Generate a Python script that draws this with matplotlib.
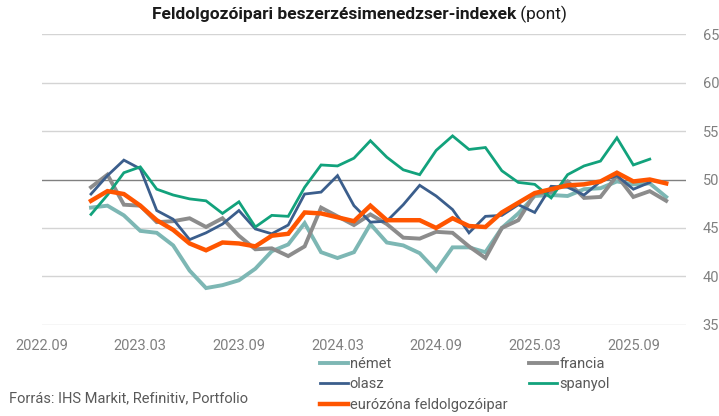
import matplotlib
matplotlib.use('Agg')
import matplotlib.pyplot as plt

plt.rcParams['font.family'] = ['Roboto', 'DejaVu Sans']

# havi adatok 2022.12 - 2025.11
start_month = 3  # honapok 2022.09 ota
nemet = [47.1, 47.3, 46.3, 44.7, 44.5, 43.2, 40.6, 38.8, 39.1, 39.6, 40.8, 42.6,
         43.3, 45.5, 42.5, 41.9, 42.5, 45.4, 43.5, 43.2, 42.4, 40.6, 43.0, 43.0,
         42.5, 45.0, 46.5, 48.3, 48.4, 48.3, 49.0, 49.1, 49.8, 49.5, 49.6, 48.2]
francia = [49.2, 50.5, 47.4, 47.3, 45.6, 45.7, 46.0, 45.1, 46.0, 44.2, 42.8, 42.9,
           42.1, 43.1, 47.1, 46.2, 45.3, 46.4, 45.4, 44.0, 43.9, 44.6, 44.5, 43.1,
           41.9, 45.0, 45.8, 48.5, 48.7, 49.8, 48.1, 48.2, 50.4, 48.2, 48.8, 47.8]
olasz = [48.5, 50.4, 52.0, 51.1, 46.8, 45.9, 43.8, 44.5, 45.4, 46.8, 44.9, 44.4,
         45.3, 48.5, 48.7, 50.4, 47.3, 45.6, 45.7, 47.4, 49.4, 48.3, 46.9, 44.5,
         46.2, 46.3, 47.4, 46.6, 49.3, 49.2, 48.4, 49.8, 50.4, 49.0, 49.7]
spanyol = [46.4, 48.4, 50.7, 51.3, 49.0, 48.4, 48.0, 47.8, 46.5, 47.7, 45.1, 46.3,
           46.2, 49.2, 51.5, 51.4, 52.2, 54.0, 52.3, 51.0, 50.5, 53.0, 54.5, 53.1,
           53.3, 50.9, 49.7, 49.5, 48.1, 50.5, 51.4, 51.9, 54.3, 51.5, 52.1]
eurozona = [47.8, 48.8, 48.5, 47.3, 45.8, 44.8, 43.4, 42.7, 43.5, 43.4, 43.1, 44.2,
            44.4, 46.6, 46.5, 46.1, 45.7, 47.3, 45.8, 45.8, 45.8, 45.0, 46.0, 45.2,
            45.1, 46.6, 47.6, 48.6, 49.0, 49.4, 49.5, 49.8, 50.7, 49.8, 50.0, 49.6]

tick_pos = [0, 6, 12, 18, 24, 30, 36]
tick_labels = ['2022.09', '2023.03', '2023.09', '2024.03', '2024.09', '2025.03', '2025.09']
y_ticks = [35, 40, 45, 50, 55, 60, 65]

series = [
    ('német', nemet, '#7DB7B4', 2.8),
    ('francia', francia, '#8C8C8C', 2.8),
    ('olasz', olasz, '#3B5E8C', 2.0),
    ('spanyol', spanyol, '#12A27C', 2.0),
    ('eurózóna feldolgozóipar', eurozona, '#FF5500', 3.2),
]

fig = plt.figure(figsize=(7.19, 4.16), dpi=100)
ax = fig.add_axes([0.058, 0.219, 0.896, 0.699])

for yv in y_ticks:
    if yv == 50:
        ax.axhline(yv, color='#808080', lw=1.0, zorder=1)
    else:
        ax.axhline(yv, color='#D4D4D4', lw=1.0, zorder=1)

lines = {}
for name, vals, col, lw in series:
    xs = [start_month + i for i in range(len(vals))]
    ln, = ax.plot(xs, vals, color=col, lw=lw, label=name, zorder=3,
                  solid_joinstyle='miter')
    lines[name] = ln

ax.set_xlim(0, 39.2)
ax.set_ylim(35, 65)
ax.set_xticks(tick_pos)
ax.set_xticklabels(tick_labels)
ax.set_yticks(y_ticks)
ax.yaxis.tick_right()
ax.tick_params(axis='both', length=0, colors='#808080', labelsize=10.5)
ax.tick_params(axis='x', pad=10)
ax.tick_params(axis='y', pad=12)
for s in ax.spines.values():
    s.set_visible(False)

# cim: felkover + normal resz
t1 = fig.text(0.5, 0.965, 'Feldolgozóipari beszerzésimenedzser-indexek', fontsize=12.5,
              fontweight='bold', ha='center', va='center', color='#1a1a1a')
t2 = fig.text(0.5, 0.965, ' (pont)', fontsize=12.5, ha='left', va='center', color='#1a1a1a')
fig.canvas.draw()
r = fig.canvas.get_renderer()
w1 = t1.get_window_extent(r).width
w2 = t2.get_window_extent(r).width
tot = w1 + w2
cx = 0.5 * fig.bbox.width
t1.set_ha('left')
t1.set_x((cx - tot / 2) / fig.bbox.width)
t2.set_x((cx - tot / 2 + w1) / fig.bbox.width)

order = ['német', 'olasz', 'eurózóna feldolgozóipar', 'francia', 'spanyol']
leg = fig.legend([lines[n] for n in order], order, ncol=2, loc='upper left',
                 bbox_to_anchor=(0.445, 0.142), frameon=False, fontsize=10.5,
                 handlelength=1.9, handletextpad=0.15, columnspacing=1.5,
                 labelspacing=0.45, borderaxespad=0, borderpad=0)
for t in leg.get_texts():
    t.set_color('#595959')

fig.text(0.012, 0.043, 'Forrás: IHS Markit, Refinitiv, Portfolio', fontsize=10.5,
         color='#595959', va='center')

fig.savefig('out.png', dpi=100)
